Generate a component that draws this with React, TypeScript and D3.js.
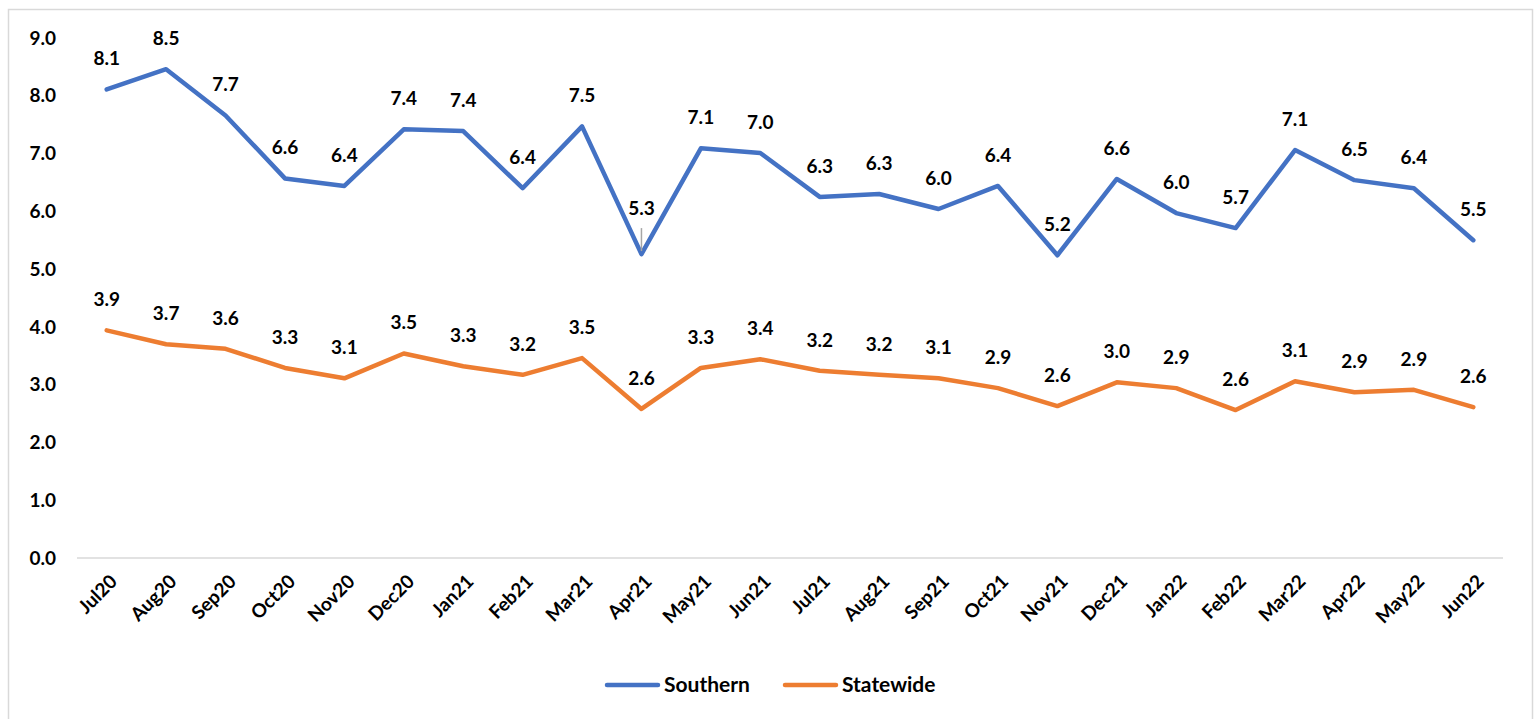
import * as d3 from 'd3';
import { useEffect, useRef } from 'react';

const months = [
  'Jul20', 'Aug20', 'Sep20', 'Oct20', 'Nov20', 'Dec20', 'Jan21', 'Feb21',
  'Mar21', 'Apr21', 'May21', 'Jun21', 'Jul21', 'Aug21', 'Sep21', 'Oct21',
  'Nov21', 'Dec21', 'Jan22', 'Feb22', 'Mar22', 'Apr22', 'May22', 'Jun22',
];

const southern = [
  8.11, 8.46, 7.66, 6.57, 6.44, 7.42, 7.39, 6.4, 7.47, 5.26, 7.09, 7.01,
  6.25, 6.3, 6.04, 6.44, 5.24, 6.56, 5.97, 5.71, 7.06, 6.54, 6.4, 5.5,
];

const statewide = [
  3.94, 3.7, 3.62, 3.29, 3.11, 3.54, 3.32, 3.17, 3.46, 2.58, 3.29, 3.44,
  3.24, 3.17, 3.11, 2.94, 2.63, 3.04, 2.94, 2.56, 3.06, 2.87, 2.91, 2.61,
];

const yTicks = [0, 1, 2, 3, 4, 5, 6, 7, 8, 9];

const FONT = 'Lato, "Open Sans", sans-serif';

export default function App() {
  const ref = useRef<SVGSVGElement | null>(null);

  useEffect(() => {
    if (!ref.current) return;
    const svg = d3.select(ref.current);
    svg.selectAll('*').remove();

    // chart frame
    svg
      .append('rect')
      .attr('x', 8.5)
      .attr('y', 9.5)
      .attr('width', 1524)
      .attr('height', 730)
      .attr('fill', '#fff')
      .attr('stroke', '#d9d9d9')
      .attr('stroke-width', 1.5);

    const x = d3.scalePoint<string>().domain(months).range([77, 1503]).padding(0.5);
    const y = d3.scaleLinear().domain([0, 9]).range([558, 38]);

    // y labels
    svg
      .append('g')
      .selectAll('text')
      .data(yTicks)
      .join('text')
      .attr('x', 56)
      .attr('y', (d) => y(d))
      .attr('dy', '0.35em')
      .attr('text-anchor', 'end')
      .attr('font-family', FONT)
      .attr('font-weight', 700)
      .attr('font-size', 19)
      .text((d) => d.toFixed(1));

    // baseline
    svg
      .append('line')
      .attr('x1', 77)
      .attr('x2', 1503)
      .attr('y1', y(0))
      .attr('y2', y(0))
      .attr('stroke', '#d9d9d9')
      .attr('stroke-width', 1.5);

    // x labels
    svg
      .append('g')
      .selectAll('text')
      .data(months)
      .join('text')
      .attr('transform', (d) => `translate(${x(d)! + 7},${y(0) + 20}) rotate(-45)`)
      .attr('text-anchor', 'end')
      .attr('dy', '0.35em')
      .attr('font-family', FONT)
      .attr('font-weight', 700)
      .attr('font-size', 19)
      .text((d) => d);

    const series = [
      { name: 'Southern', values: southern, color: '#4472C4' },
      { name: 'Statewide', values: statewide, color: '#ED7D31' },
    ];

    const line = d3
      .line<number>()
      .x((_, i) => x(months[i])!)
      .y((d) => y(d));

    series.forEach((s) => {
      svg
        .append('path')
        .datum(s.values)
        .attr('d', line)
        .attr('fill', 'none')
        .attr('stroke', s.color)
        .attr('stroke-width', 4.5)
        .attr('stroke-linejoin', 'round')
        .attr('stroke-linecap', 'round');
    });

    series.forEach((s) => {
      svg
        .append('g')
        .selectAll('text')
        .data(s.values)
        .join('text')
        .attr('x', (_, i) => x(months[i])!)
        .attr('y', (d, i) => y(d) - (s.name === 'Southern' && i === 9 ? 39 : 24))
        .attr('text-anchor', 'middle')
        .attr('font-family', FONT)
        .attr('font-weight', 700)
        .attr('font-size', 19)
        .text((d) => d.toFixed(1));
    });

    // leader line for Apr21 label
    const ax = x('Apr21')!;
    svg
      .append('line')
      .attr('x1', ax)
      .attr('x2', ax)
      .attr('y1', y(southern[9]) - 26)
      .attr('y2', y(southern[9]) - 3)
      .attr('stroke', '#a6a6a6')
      .attr('stroke-width', 1.5);

    // legend
    const legend = [
      { name: 'Southern', color: '#4472C4', x0: 605 },
      { name: 'Statewide', color: '#ED7D31', x0: 783 },
    ];
    legend.forEach((l) => {
      svg
        .append('line')
        .attr('x1', l.x0 + 2)
        .attr('x2', l.x0 + 53)
        .attr('y1', 685)
        .attr('y2', 685)
        .attr('stroke', l.color)
        .attr('stroke-width', 4.5)
        .attr('stroke-linecap', 'round');
      svg
        .append('text')
        .attr('x', l.x0 + 59)
        .attr('y', 685)
        .attr('dy', '0.35em')
        .attr('font-family', FONT)
        .attr('font-weight', 700)
        .attr('font-size', 21)
        .text(l.name);
    });
  }, []);

  return (
    <svg
      ref={ref}
      width={1535}
      height={719}
      style={{ position: 'absolute', left: 0, top: 0, display: 'block' }}
    />
  );
}
